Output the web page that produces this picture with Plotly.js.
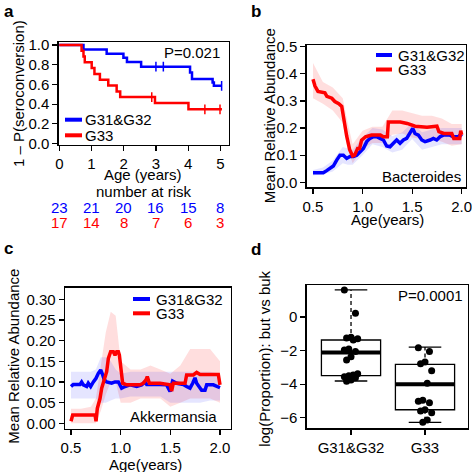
<!DOCTYPE html>
<html><head><meta charset="utf-8">
<script src="https://cdn.plot.ly/plotly-3.0.1.min.js"></script>
<style>html,body{margin:0;padding:0;background:#fff}#chart{width:472px;height:472px}</style>
</head><body><div id="chart"></div>
<script>
// ---------- Panel a: Kaplan-Meier ----------
const groupNames = ["G31&G32", "G33"];
const kmBlueTime = [0, 0.75, 1.47, 1.99, 2.10, 2.54, 4.06, 4.12, 4.76, 4.80, 5.05];
const kmBlueSurv = [1.0, 0.955, 0.912, 0.870, 0.826, 0.780, 0.720, 0.655, 0.620, 0.585, 0.585];
const kmBlueCensorTime = [3.0, 3.23, 5.04];
const kmBlueCensorSurv = [0.780, 0.780, 0.585];
const kmRedTime = [0, 0.69, 0.75, 0.79, 1.005, 1.09, 1.26, 1.52, 1.78, 1.89, 2.97, 4.01, 5.05];
const kmRedSurv = [1.0, 0.941, 0.882, 0.824, 0.765, 0.706, 0.647, 0.588, 0.529, 0.471, 0.412, 0.347, 0.347];
const kmRedCensorTime = [2.87, 4.52, 4.99];
const kmRedCensorSurv = [0.471, 0.347, 0.347];
const riskTimes = [0, 1, 2, 3, 4, 5];
const riskBlue = [23, 21, 20, 16, 15, 8];
const riskRed = [17, 14, 8, 7, 6, 3];

// ---------- Panel b: Bacteroides ----------
const bacRedAge = [0.50,0.52,0.55,0.62,0.64,0.69,0.72,0.76,0.79,0.81,0.84,0.87,0.90,0.92,0.95,0.97,0.99,1.03,1.09,1.18,1.21,1.25,1.26,1.38,1.45,1.53,1.65,1.75,1.77,1.82,1.90,1.92,1.98,1.99,2.00];
const bacRedMean = [0.380,0.355,0.335,0.330,0.317,0.310,0.298,0.290,0.280,0.235,0.170,0.120,0.097,0.100,0.125,0.125,0.155,0.168,0.174,0.174,0.168,0.168,0.222,0.222,0.217,0.207,0.203,0.207,0.187,0.180,0.180,0.162,0.162,0.190,0.175];
const bacBlueAge = [0.500,0.604,0.638,0.672,0.705,0.739,0.772,0.806,0.840,0.873,0.907,0.941,0.974,1.008,1.042,1.075,1.109,1.142,1.176,1.210,1.243,1.277,1.311,1.344,1.378,1.412,1.445,1.479,1.506,1.529,1.563,1.597,1.630,1.681,1.714,1.748,1.782,1.815,1.882,1.916,1.967,1.983,2.000];
const bacBlueMean = [0.035,0.035,0.043,0.051,0.060,0.082,0.100,0.100,0.088,0.095,0.095,0.100,0.113,0.125,0.150,0.162,0.168,0.168,0.162,0.156,0.134,0.131,0.144,0.156,0.144,0.156,0.162,0.180,0.199,0.180,0.174,0.156,0.150,0.156,0.162,0.156,0.168,0.174,0.174,0.168,0.168,0.174,0.168];
const bandAgeB = [0.5,0.6,0.7,0.8,0.85,0.9,1.0,1.1,1.2,1.3,1.4,1.5,1.6,1.7,1.8,1.9,2.0];
const bacRedUpper = [0.440,0.370,0.350,0.310,0.220,0.140,0.190,0.205,0.205,0.265,0.265,0.255,0.245,0.245,0.235,0.215,0.215];
const bacRedLower = [0.310,0.290,0.265,0.220,0.120,0.070,0.125,0.145,0.145,0.175,0.180,0.165,0.160,0.160,0.150,0.135,0.140];
const bacBlueUpper = [0.045,0.055,0.080,0.130,0.125,0.120,0.165,0.200,0.195,0.170,0.185,0.220,0.185,0.195,0.200,0.200,0.200];
const bacBlueLower = [0.025,0.030,0.040,0.070,0.065,0.065,0.100,0.140,0.130,0.110,0.120,0.160,0.120,0.130,0.140,0.140,0.140];

// ---------- Panel c: Akkermansia ----------
const akkRedAge = [0.500,0.517,0.742,0.752,0.765,0.792,0.809,0.826,0.859,0.876,0.899,0.926,0.943,0.960,0.977,0.987,1.003,1.020,1.060,1.195,1.228,1.255,1.268,1.289,1.396,1.497,1.513,1.530,1.648,1.664,1.732,1.765,1.799,1.983,2.000];
const akkRedMean = [0.005,0.020,0.020,0.005,0.036,0.060,0.085,0.100,0.125,0.157,0.173,0.173,0.165,0.173,0.173,0.165,0.120,0.097,0.093,0.093,0.097,0.105,0.113,0.097,0.097,0.093,0.078,0.097,0.097,0.117,0.117,0.123,0.118,0.118,0.093];
const akkBlueAge = [0.500,0.523,0.591,0.607,0.624,0.658,0.674,0.698,0.725,0.752,0.775,0.799,0.819,0.836,0.859,0.909,0.943,0.977,0.993,1.010,1.044,1.094,1.161,1.211,1.245,1.262,1.396,1.463,1.497,1.523,1.564,1.631,1.664,1.698,1.725,1.748,1.765,1.792,1.815,1.849,1.866,1.933,1.966,2.000];
const akkBlueMean = [0.089,0.094,0.094,0.100,0.093,0.089,0.097,0.089,0.100,0.109,0.121,0.129,0.117,0.105,0.100,0.097,0.100,0.100,0.093,0.085,0.089,0.093,0.089,0.093,0.100,0.094,0.094,0.093,0.077,0.102,0.097,0.094,0.089,0.085,0.097,0.110,0.097,0.089,0.080,0.080,0.093,0.093,0.089,0.086];
const bandAgeC = [0.5,0.6,0.7,0.75,0.8,0.85,0.9,0.95,1.0,1.1,1.2,1.3,1.4,1.5,1.6,1.7,1.8,1.9,2.0];
const akkRedUpper = [0.035,0.035,0.040,0.060,0.140,0.220,0.270,0.260,0.150,0.130,0.130,0.140,0.130,0.120,0.140,0.180,0.180,0.180,0.150];
const akkRedLower = [0.000,0.000,0.000,0.000,0.030,0.070,0.100,0.100,0.050,0.050,0.060,0.060,0.060,0.040,0.050,0.060,0.060,0.060,0.050];
const akkBlueUpper = [0.125,0.125,0.125,0.130,0.160,0.160,0.150,0.130,0.120,0.125,0.125,0.125,0.125,0.125,0.125,0.125,0.125,0.125,0.120];
const akkBlueLower = [0.060,0.060,0.060,0.060,0.050,0.050,0.055,0.060,0.060,0.065,0.065,0.065,0.065,0.050,0.050,0.050,0.050,0.055,0.055];

// ---------- Panel d: but vs buk ----------
const boxCats = [1, 2];
const boxQ1 = [-3.49, -5.52];
const boxMedian = [-2.12, -4.00];
const boxQ3 = [-1.37, -2.82];
const boxLowerWhisker = [-3.81, -6.27];
const boxUpperWhisker = [1.61, -1.79];
const pointsG1 = [1.61, 0.22, -1.20, -1.25, -1.30, -1.37, -1.90, -1.97, -2.06, -2.36, -2.56, -3.38, -3.45, -3.50, -3.55, -3.62, -3.75, -3.82];
const pointsG2 = [-1.83, -2.05, -2.68, -2.78, -3.20, -3.95, -4.95, -5.02, -5.10, -5.52, -5.60, -5.70, -6.13, -6.27];

// ---------- helpers ----------
const W = 472, H = 472;
const px = x => x / W;
const py = y => 1 - y / H;
const BLUE = '#0000FF', RED = '#FF0000';
const FONT = 'Liberation Sans, Arial, Helvetica, sans-serif';
const FS = 15;

function band(xs, up, lo, color, xa, ya) {
  return { x: xs.concat(xs.slice().reverse()), y: up.concat(lo.slice().reverse()),
    fill: 'toself', fillcolor: color, line: {width: 0}, mode: 'lines',
    hoverinfo: 'skip', showlegend: false, xaxis: xa, yaxis: ya };
}
function line(xs, ys, color, w, xa, ya, shape) {
  return { x: xs, y: ys, mode: 'lines', line: {color: color, width: w, shape: shape || 'linear'},
    showlegend: false, xaxis: xa, yaxis: ya };
}
function censor(xs, ys, color) {
  return {x: xs, y: ys, mode: 'markers',
    marker: {symbol: 'line-ns-open', size: 7, color: color, line: {color: color, width: 1.5}},
    showlegend: false, xaxis: 'x', yaxis: 'y'};
}

const traces = [];
// a
traces.push(line(kmBlueTime, kmBlueSurv, BLUE, 2.5, 'x', 'y', 'hv'));
traces.push(line(kmRedTime, kmRedSurv, RED, 2.5, 'x', 'y', 'hv'));
traces.push(censor(kmBlueCensorTime, kmBlueCensorSurv, BLUE));
traces.push(censor(kmRedCensorTime, kmRedCensorSurv, RED));
// b
traces.push(band(bandAgeB, bacRedUpper, bacRedLower, 'rgba(255,0,0,0.13)', 'x2', 'y2'));
traces.push(band(bandAgeB, bacBlueUpper, bacBlueLower, 'rgba(0,0,255,0.10)', 'x2', 'y2'));
traces.push(line(bacBlueAge, bacBlueMean, BLUE, 3.5, 'x2', 'y2'));
traces.push(line(bacRedAge, bacRedMean, RED, 3.5, 'x2', 'y2'));
// c
traces.push(band(bandAgeC, akkRedUpper, akkRedLower, 'rgba(255,0,0,0.13)', 'x3', 'y3'));
traces.push(band(bandAgeC, akkBlueUpper, akkBlueLower, 'rgba(0,0,255,0.10)', 'x3', 'y3'));
traces.push(line(akkBlueAge, akkBlueMean, BLUE, 3.5, 'x3', 'y3'));
traces.push(line(akkRedAge, akkRedMean, RED, 3.5, 'x3', 'y3'));
// d
traces.push({type: 'box', x: boxCats, q1: boxQ1, median: boxMedian, q3: boxQ3,
  lowerfence: boxQ1, upperfence: boxQ3, width: 0.8, whiskerwidth: 0,
  fillcolor: '#FFFFFF', line: {color: '#000000', width: 1.3}, boxpoints: false,
  showlegend: false, hoverinfo: 'skip', xaxis: 'x4', yaxis: 'y4'});
boxCats.forEach((c, i) => {
  const wh = line([c, c, null, c, c], [boxQ3[i], boxUpperWhisker[i], null, boxQ1[i], boxLowerWhisker[i]], '#000', 1.3, 'x4', 'y4');
  wh.line.dash = '4px,3px';
  traces.push(wh);
  traces.push(line([c - 0.22, c + 0.22, null, c - 0.22, c + 0.22], [boxUpperWhisker[i], boxUpperWhisker[i], null, boxLowerWhisker[i], boxLowerWhisker[i]], '#000', 1.3, 'x4', 'y4'));
  traces.push(line([c - 0.4, c + 0.4], [boxMedian[i], boxMedian[i]], '#000', 4, 'x4', 'y4'));
});
const jit = i => ((i * 5) % 7 - 3) * 0.03;
[pointsG1, pointsG2].forEach((pts, g) => {
  traces.push({x: pts.map((v, i) => boxCats[g] + jit(i)), y: pts, mode: 'markers',
    marker: {color: '#000', size: 7}, showlegend: false, xaxis: 'x4', yaxis: 'y4'});
});

const baseAxis = {showline: true, mirror: true, linecolor: '#000', linewidth: 1.3,
  ticks: 'outside', ticklen: 5, tickwidth: 1.2, tickcolor: '#000', showgrid: false,
  zeroline: false, tickfont: {family: FONT, size: FS, color: '#000'}, fixedrange: true,
  ticklabeloverflow: 'allow'};
const ax = o => Object.assign({}, baseAxis, o);

const layout = {
  width: W, height: H, margin: {l: 0, r: 0, t: 0, b: 0},
  paper_bgcolor: '#fff', plot_bgcolor: '#fff', showlegend: false,
  font: {family: FONT, size: FS, color: '#000'},
  xaxis: ax({domain: [px(58.7), px(228.7)], range: [-0.02, 5.26], tickvals: [0,1,2,3,4,5], anchor: 'y'}),
  yaxis: ax({domain: [py(145), py(42)], range: [-0.015, 1.03], tickvals: [0,0.2,0.4,0.6,0.8,1.0], tickformat: '.1f', anchor: 'x'}),
  xaxis2: ax({domain: [px(306.7), px(466)], range: [0.4364, 2.0434], tickvals: [0.5,1.0,1.5,2.0], tickformat: '.1f', anchor: 'y2'}),
  yaxis2: ax({domain: [py(187.3), py(45.3)], range: [-0.0184, 0.5052], tickvals: [0,0.1,0.2,0.3,0.4,0.5], tickformat: '.1f', anchor: 'x2'}),
  xaxis3: ax({domain: [px(65), px(230.7)], range: [0.4396, 2.1077], tickvals: [0.5,1.0,1.5,2.0], tickformat: '.1f', anchor: 'y3'}),
  yaxis3: ax({domain: [py(428.7), py(287.7)], range: [-0.013, 0.328], tickvals: [0,0.05,0.1,0.15,0.2,0.25,0.3], tickformat: '.2f', anchor: 'x3'}),
  xaxis4: ax({domain: [px(306.7), px(467.7)], range: [0.401, 2.577], tickvals: boxCats, ticktext: groupNames, anchor: 'y4'}),
  yaxis4: ax({domain: [py(428.3), py(285.3)], range: [-6.625, 1.887], tickvals: [-6,-4,-2,0], anchor: 'x4'}),
  shapes: [], annotations: []
};

function txt(x, y, text, opts) {
  layout.annotations.push(Object.assign({xref: 'paper', yref: 'paper', x: px(x), y: py(y), text: text,
    showarrow: false, xanchor: 'center', yanchor: 'middle', font: {family: FONT, size: FS, color: '#000'}}, opts || {}));
}
function legendItem(x0, x1, xt, y, color, label) {
  layout.shapes.push({type: 'line', xref: 'paper', yref: 'paper', x0: px(x0), x1: px(x1), y0: py(y), y1: py(y), line: {color: color, width: 4}});
  txt(xt, y, label, {xanchor: 'left'});
}

// panel letters
const bold = {family: FONT, size: 17, color: '#000', weight: 'bold'};
txt(2, 0, '<b>a</b>', {xanchor: 'left', yanchor: 'top', font: bold});
txt(249, 0, '<b>b</b>', {xanchor: 'left', yanchor: 'top', font: bold});
txt(2, 237, '<b>c</b>', {xanchor: 'left', yanchor: 'top', font: bold});
txt(249, 238, '<b>d</b>', {xanchor: 'left', yanchor: 'top', font: bold});

// panel a texts
txt(18, 94, '1 \u2013 P(seroconversion)', {textangle: -90});
txt(143, 174, 'Age (years)');
txt(143.5, 191.5, 'number at risk');
riskTimes.forEach((t, i) => {
  layout.annotations.push({xref: 'x', yref: 'paper', x: t, y: py(208), text: String(riskBlue[i]), showarrow: false, xanchor: 'center', yanchor: 'middle', font: {family: FONT, size: FS, color: BLUE}});
  layout.annotations.push({xref: 'x', yref: 'paper', x: t, y: py(222.5), text: String(riskRed[i]), showarrow: false, xanchor: 'center', yanchor: 'middle', font: {family: FONT, size: FS, color: RED}});
});
txt(221.7, 52, 'P=0.021', {xanchor: 'right'});
legendItem(65, 82, 82.5, 119.7, BLUE, groupNames[0]);
legendItem(65, 82, 82.5, 135.3, RED, groupNames[1]);

// panel b texts
txt(269.3, 116, 'Mean Relative Abundance', {textangle: -90});
txt(387.3, 219, 'Age(years)');
txt(463.3, 176.7, 'Bacteroides', {xanchor: 'right'});
legendItem(376, 392, 396, 55, BLUE, groupNames[0]);
legendItem(376, 392, 396, 69.5, RED, groupNames[1]);

// panel c texts
txt(12.7, 356, 'Mean Relative Abundance', {textangle: -90});
txt(145, 464, 'Age(years)');
txt(219.3, 416, 'Akkermansia', {xanchor: 'right'});
legendItem(133, 150, 153.5, 299, BLUE, groupNames[0]);
legendItem(133, 150, 153.5, 313.3, RED, groupNames[1]);

// panel d texts
txt(264.3, 358.5, 'log(Proportion): but vs buk', {textangle: -90});
txt(465, 295, 'P=0.0001', {xanchor: 'right'});

Plotly.newPlot('chart', traces, layout, {staticPlot: true, displayModeBar: false});
</script></body></html>
